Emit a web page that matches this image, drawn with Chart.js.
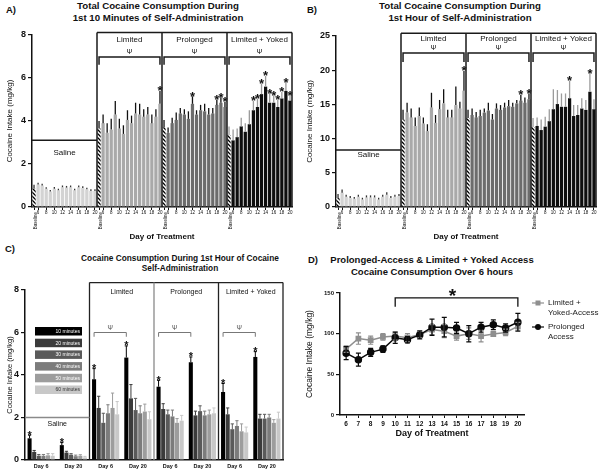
<!DOCTYPE html>
<html>
<head>
<meta charset="utf-8">
<script src="https://cdn.jsdelivr.net/npm/chart.js@4.4.1/dist/chart.umd.min.js"></script>
<style>
  body { margin: 0; background: #fff; width: 602px; height: 474px; position: relative; overflow: hidden;
         font-family: "Liberation Sans", Arial, sans-serif; color: #111; }
  canvas { position: absolute; }
  .letter { position: absolute; font-weight: bold; font-size: 9.5px; }
  .title { position: absolute; font-weight: bold; text-align: center; white-space: nowrap; }
</style>
</head>
<body>
<div class="letter" style="left:6px;top:4px">A)</div>
<div class="title" style="left:8px;top:0;width:300px;font-size:9.7px;line-height:11.5px">Total Cocaine Consumption During<br>1st 10 Minutes of Self-Administration</div>
<div class="letter" style="left:307px;top:4px">B)</div>
<div class="title" style="left:310px;top:0;width:300px;font-size:9.7px;line-height:12px">Total Cocaine Consumption During<br>1st Hour of Self-Administration</div>
<div class="letter" style="left:5px;top:243px">C)</div>
<div class="title" style="left:30px;top:254px;width:300px;font-size:8.3px;line-height:9.5px">Cocaine Consumption During 1st Hour of Cocaine<br>Self-Administration</div>
<div class="letter" style="left:308px;top:254px">D)</div>
<div class="title" style="left:282px;top:254px;width:300px;font-size:9.5px;line-height:12px">Prolonged-Access &amp; Limited + Yoked Access<br>Cocaine Consumption Over 6 hours</div>

<canvas id="chartA" width="300" height="245" style="left:0;top:0"></canvas>
<canvas id="chartB" width="302" height="245" style="left:300px;top:0"></canvas>
<canvas id="chartC" width="300" height="229" style="left:0;top:245px"></canvas>
<canvas id="chartD" width="302" height="229" style="left:300px;top:245px"></canvas>

<script>
const FONT = "'Liberation Sans', Arial, sans-serif";
Chart.defaults.font.family = FONT;
Chart.defaults.color = "#111";

const groups = ["Saline", "Limited", "Prolonged", "Limited + Yoked"];
const dayLabels = ["Baseline", "6", "7", "8", "9", "10", "11", "12", "13", "14", "15", "16", "17", "18", "19", "20"];
const barColors = ["#d3d3d3", "#a9a9a9", "#6c6c6c", "#0e0e0e"];
const errColors = ["#333333", "#111111", "#111111", "#9b9b9b"];

// A) first 10 minutes (mg/kg), baseline then days 6-20
const aSaline = [0.85, 1.05, 1.0, 0.85, 0.72, 0.85, 0.78, 0.92, 0.9, 0.92, 0.78, 0.92, 0.88, 0.82, 0.75, 0.75];
const aSalineErr = [0.18, 0.08, 0.08, 0.07, 0.07, 0.08, 0.07, 0.08, 0.08, 0.08, 0.07, 0.08, 0.08, 0.07, 0.07, 0.07];
const aLimited = [3.65, 3.9, 3.45, 3.6, 4.3, 3.65, 3.4, 4.05, 3.9, 4.35, 4.3, 4.2, 4.3, 3.9, 4.2, 4.8];
const aLimitedErr = [0.35, 0.4, 0.45, 0.5, 0.63, 0.45, 0.4, 0.45, 0.35, 0.5, 0.5, 0.35, 0.35, 0.4, 0.35, 0.6];
const aProlonged = [3.7, 3.45, 3.9, 4.05, 4.35, 4.3, 4.1, 4.8, 4.3, 4.5, 4.45, 4.3, 4.35, 4.75, 4.85, 4.65];
const aProlongedErr = [0.35, 0.25, 0.25, 0.35, 0.25, 0.25, 0.35, 0.35, 0.2, 0.25, 0.35, 0.3, 0.25, 0.25, 0.25, 0.25];
const aYoked = [3.35, 3.1, 3.25, 3.75, 3.5, 3.85, 4.5, 4.65, 5.25, 5.6, 4.85, 4.85, 4.65, 5.05, 5.4, 4.95];
const aYokedErr = [0.4, 0.5, 0.4, 0.4, 0.4, 0.65, 0.45, 0.4, 0.5, 0.5, 0.45, 0.35, 0.35, 0.3, 0.4, 0.25];
const aStars = [[], [20], [12, 18, 19, 20], [11, 12, 13, 14, 15, 16, 17, 18, 19, 20]];

// B) first hour (mg/kg)
const bSaline = [1.3, 2.1, 1.5, 1.3, 1.2, 1.5, 1.1, 1.4, 1.4, 1.4, 1.1, 1.5, 1.8, 1.3, 1.5, 1.6];
const bSalineErr = [0.6, 0.45, 0.3, 0.3, 0.25, 0.3, 0.25, 0.3, 0.3, 0.3, 0.25, 0.3, 0.35, 0.3, 0.3, 0.3];
const bLimited = [12.8, 13.8, 13.1, 11.85, 13.3, 12.2, 11.1, 14.55, 12.3, 14.3, 15.15, 13.1, 13.1, 14.9, 14.4, 17.0];
const bLimitedErr = [1.4, 1.45, 1.3, 1.25, 1.25, 0.9, 1.0, 2.15, 1.15, 1.35, 2.05, 1.1, 1.1, 2.7, 1.0, 2.9];
const bProlonged = [13.0, 13.45, 13.1, 13.3, 13.8, 14.1, 12.8, 14.4, 14.2, 14.55, 14.75, 14.65, 15.15, 15.55, 15.25, 15.75];
const bProlongedErr = [1.2, 0.95, 0.8, 0.9, 0.6, 1.15, 0.8, 0.75, 0.7, 0.7, 0.9, 0.6, 0.5, 0.85, 0.75, 0.85];
const bYoked = [11.7, 11.85, 11.25, 11.75, 12.55, 14.3, 15.05, 14.65, 14.65, 15.9, 13.3, 13.45, 14.4, 14.2, 16.85, 14.3];
const bYokedErr = [1.3, 1.25, 1.55, 1.45, 1.75, 2.9, 2.05, 1.95, 1.95, 2.6, 1.6, 1.45, 1.5, 1.45, 2.7, 1.45];
const bStars = [[], [20], [18, 20], [14, 19]];

// C) 10-minute bins of the first hour, days 6 and 20 per group
const cDays = ["Day 6", "Day 20"];
const minutes = ["10 minutes", "20 minutes", "30 minutes", "40 minutes", "50 minutes", "60 minutes"];
const minColors = ["#000000", "#3b3b3b", "#5a5a5a", "#7c7c7c", "#9d9d9d", "#c8c8c8"];
const minText = ["#fff", "#fff", "#fff", "#fff", "#fff", "#333"];
const c10 = [1.02, 0.7, 3.8, 4.82, 3.45, 4.6, 3.2, 4.85];
const c20 = [0.38, 0.35, 2.45, 2.9, 2.4, 2.1, 2.15, 1.95];
const c30 = [0.2, 0.25, 1.75, 2.35, 2.15, 2.3, 1.45, 1.95];
const c40 = [0.2, 0.18, 2.2, 2.2, 2.05, 2.1, 1.6, 2.0];
const c50 = [0.22, 0.2, 2.45, 2.28, 1.75, 2.15, 1.35, 1.75];
const c60 = [0.2, 0.12, 2.15, 1.92, 1.85, 2.2, 1.3, 1.95];
const c10Err = [0.15, 0.12, 0.5, 0.55, 0.3, 0.25, 0.4, 0.25];
const c20Err = [0.07, 0.06, 0.55, 0.65, 0.25, 0.2, 0.3, 0.2];
const c30Err = [0.06, 0.05, 0.45, 0.55, 0.2, 0.25, 0.25, 0.2];
const c40Err = [0.06, 0.05, 0.4, 0.35, 0.3, 0.2, 0.25, 0.15];
const c50Err = [0.08, 0.05, 0.7, 0.35, 0.2, 0.2, 0.35, 0.15];
const c60Err = [0.1, 0.05, 0.6, 0.35, 0.25, 0.25, 0.25, 0.3];

// D) 6-hour totals, days 6-20
const dDays = ["6", "7", "8", "9", "10", "11", "12", "13", "14", "15", "16", "17", "18", "19", "20"];
const dYoked = [81, 94, 92, 96, 97, 95, 99, 105, 103, 97, 100, 97, 99.5, 101.5, 109];
const dYokedErr = [4, 7, 5, 4, 5, 5, 4, 6, 8, 5, 7, 7, 3, 4, 5];
const dProlonged = [76, 68, 77, 81, 95, 92.5, 98.5, 108, 108, 107, 100, 108, 111, 107, 114];
const dProlongedErr = [8, 8, 5, 4, 7, 4, 5, 10, 12, 7, 10, 6, 6, 5, 11];
const dLegend = [["Limited +", "Yoked-Access"], ["Prolonged", "Access"]];

function hatch(ctx) {
  const tile = document.createElement("canvas");
  tile.width = 4; tile.height = 4;
  const g = tile.getContext("2d");
  g.fillStyle = "#fff"; g.fillRect(0, 0, 4, 4);
  g.strokeStyle = "#000"; g.lineWidth = 1.3;
  g.beginPath();
  g.moveTo(0, 0); g.lineTo(4, 4);
  g.moveTo(-1, 3); g.lineTo(1, 5);
  g.moveTo(3, -1); g.lineTo(5, 1);
  g.stroke();
  return ctx.createPattern(tile, "repeat");
}

function yAxis(max, step, width, titleSize) {
  return {
    min: 0, max,
    ticks: { stepSize: step, font: { size: 9, weight: "bold" }, padding: 2, color: "#111" },
    grid: { drawOnChartArea: false, tickLength: 4, color: "#111", lineWidth: 1.2 },
    border: { color: "#111", width: 1.5 },
    title: { display: true, text: "Cocaine Intake (mg/kg)", font: { size: titleSize }, padding: { top: 5, bottom: 0 }, color: "#111" },
    afterFit: s => { s.width = width; }
  };
}

function groupPlugin(p) {
  return {
    id: "groups",
    afterDraw(chart) {
      const { ctx, chartArea: a, scales: { x, y } } = chart;
      const meta = chart.getDatasetMeta(0);
      const vals = chart.data.datasets[0].data;
      const n = dayLabels.length;
      const edge = g => g === groups.length ? a.right : (x.getPixelForValue(g * n - 1) + x.getPixelForValue(g * n)) / 2;
      ctx.save();
      ctx.lineWidth = 1.3;
      vals.forEach((v, i) => {
        const el = meta.data[i];
        ctx.strokeStyle = errColors[Math.floor(i / n)];
        ctx.beginPath();
        ctx.moveTo(el.x, el.y);
        ctx.lineTo(el.x, y.getPixelForValue(v + p.errors[i]));
        ctx.stroke();
      });
      ctx.fillStyle = "#111";
      ctx.textAlign = "center";
      ctx.font = "bold 13px " + FONT;
      p.stars.forEach((days, g) => days.forEach(d => {
        const i = g * n + dayLabels.indexOf(String(d));
        ctx.fillText("*", meta.data[i].x, y.getPixelForValue(vals[i] + p.errors[i]) + 4.5);
      }));

      const top = y.getPixelForValue(p.boxTop);
      const sal = y.getPixelForValue(p.salineLine);
      ctx.strokeStyle = "#1a1a1a";
      ctx.lineWidth = 1.5;
      ctx.beginPath();
      ctx.moveTo(a.left, sal); ctx.lineTo(edge(1), sal);
      ctx.moveTo(edge(1), top); ctx.lineTo(a.right, top);
      for (let g = 1; g <= groups.length; g++) { ctx.moveTo(edge(g), top); ctx.lineTo(edge(g), a.bottom); }
      ctx.stroke();

      ctx.textBaseline = "middle";
      ctx.font = "8px " + FONT;
      ctx.fillText(groups[0], (a.left + edge(1)) / 2, y.getPixelForValue(p.salineText));
      const bt = y.getPixelForValue(p.bracket[0]), bb = y.getPixelForValue(p.bracket[1]);
      for (let g = 1; g < groups.length; g++) {
        const cx = (edge(g) + edge(g + 1)) / 2;
        ctx.font = "8px " + FONT;
        ctx.fillText(groups[g], cx, y.getPixelForValue(p.labelAt));
        ctx.font = "7px " + FONT;
        ctx.fillText("\u03A8", cx, y.getPixelForValue(p.psiAt));
        const x0 = meta.data[g * n].x, x1 = meta.data[g * n + n - 1].x;
        ctx.beginPath();
        ctx.moveTo(x0, bb); ctx.lineTo(x0, bt); ctx.lineTo(x1, bt); ctx.lineTo(x1, bb);
        ctx.stroke();
      }

      // rotated "Baseline" tick labels
      ctx.font = "4.5px " + FONT;
      ctx.textAlign = "right";
      for (let g = 0; g < groups.length; g++) {
        ctx.save();
        ctx.translate(x.getPixelForValue(g * n) + 1.5, a.bottom + 5);
        ctx.rotate(-Math.PI / 2);
        ctx.fillText(dayLabels[0], 0, 0);
        ctx.restore();
      }
      ctx.restore();
    }
  };
}

function groupChart(id, series, errors, stars, max, step, yWidth, box) {
  const ctx = document.getElementById(id).getContext("2d");
  const stripes = hatch(ctx);
  const values = [].concat(...series);
  const labels = [].concat(...groups.map(() => dayLabels));
  const n = dayLabels.length;
  const shown = i => i % n !== 0 && Number(dayLabels[i % n]) % 2 === 0;
  return new Chart(ctx, {
    type: "bar",
    data: {
      labels,
      datasets: [{
        data: values,
        backgroundColor: values.map((_, i) => i % n === 0 ? stripes : barColors[Math.floor(i / n)]),
        barPercentage: 0.8,
        categoryPercentage: 1
      }]
    },
    options: {
      responsive: false,
      animation: false,
      layout: { padding: { left: 0, right: box.padRight, top: box.padTop, bottom: 3 } },
      plugins: { legend: { display: false }, tooltip: { enabled: false } },
      scales: {
        x: {
          offset: true,
          ticks: {
            autoSkip: false, maxRotation: 0, minRotation: 0, padding: 0, font: { size: 4.5 }, color: "#111",
            callback(v, i) { return shown(i) ? this.getLabelForValue(v) : ""; }
          },
          grid: { offset: false, drawOnChartArea: false, tickLength: 3, lineWidth: 1,
                  color: c => (c.index % n === 0 || shown(c.index)) ? "#111" : "rgba(0,0,0,0)" },
          border: { color: "#111", width: 1.5 },
          title: { display: true, text: "Day of Treatment", font: { size: 8, weight: "bold" }, padding: 0, color: "#111" },
          afterFit: s => { s.height = 35; }
        },
        y: yAxis(max, step, yWidth, 8)
      }
    },
    plugins: [groupPlugin(Object.assign({ errors: [].concat(...errors), stars }, box))]
  });
}

groupChart("chartA",
  [aSaline, aLimited, aProlonged, aYoked],
  [aSalineErr, aLimitedErr, aProlongedErr, aYokedErr],
  aStars, 8, 2, 32,
  { padRight: 8, padTop: 35, boxTop: 8.12, salineLine: 3.1, salineText: 2.5, labelAt: 7.77, psiAt: 7.22, bracket: [6.98, 6.62] });

groupChart("chartB",
  [bSaline, bLimited, bProlonged, bYoked],
  [bSalineErr, bLimitedErr, bProlongedErr, bYokedErr],
  bStars, 25, 5, 36,
  { padRight: 6, padTop: 36, boxTop: 25.4, salineLine: 8.33, salineText: 7.6, labelAt: 24.56, psiAt: 23.3, bracket: [22.5, 21.2] });

// Panel C
const cValues = [c10, c20, c30, c40, c50, c60];
const cErrors = [c10Err, c20Err, c30Err, c40Err, c50Err, c60Err];
const cLabels = [].concat(...groups.map(() => cDays));

const binPlugin = {
  id: "bins",
  afterDraw(chart) {
    const { ctx, chartArea: a, scales: { x, y } } = chart;
    const k = cDays.length;
    const edge = g => g === groups.length ? a.right : (x.getPixelForValue(g * k - 1) + x.getPixelForValue(g * k)) / 2;
    ctx.save();
    ctx.lineWidth = 1;
    cValues.forEach((vals, d) => {
      const meta = chart.getDatasetMeta(d);
      ctx.strokeStyle = d === 0 ? "#000" : minColors[d];
      vals.forEach((v, i) => {
        const el = meta.data[i], t = y.getPixelForValue(v + cErrors[d][i]);
        ctx.beginPath();
        ctx.moveTo(el.x, el.y); ctx.lineTo(el.x, t);
        ctx.moveTo(el.x - 1.6, t); ctx.lineTo(el.x + 1.6, t);
        ctx.stroke();
      });
    });
    ctx.fillStyle = "#111";
    ctx.textAlign = "center";
    ctx.font = "bold 11px " + FONT;
    const m0 = chart.getDatasetMeta(0);
    c10.forEach((v, i) => ctx.fillText("*", m0.data[i].x, y.getPixelForValue(v + c10Err[i]) + 3.5));

    const top = y.getPixelForValue(8.35);
    ctx.lineWidth = 1.3;
    ctx.strokeStyle = "#222";
    ctx.beginPath();
    ctx.moveTo(edge(1), top); ctx.lineTo(a.right, top);
    [1, 3, 4].forEach(g => { ctx.moveTo(edge(g), top); ctx.lineTo(edge(g), a.bottom); });
    ctx.stroke();
    ctx.strokeStyle = "#8a8a8a";
    ctx.beginPath();
    ctx.moveTo(edge(2), top); ctx.lineTo(edge(2), a.bottom);
    ctx.moveTo(a.left, y.getPixelForValue(2)); ctx.lineTo(edge(1), y.getPixelForValue(2));
    ctx.stroke();

    ctx.textBaseline = "middle";
    ctx.font = "7px " + FONT;
    ctx.fillText(groups[0], (a.left + edge(1)) / 2, y.getPixelForValue(1.7));
    ctx.strokeStyle = "#777";
    ctx.lineWidth = 1;
    for (let g = 1; g < groups.length; g++) {
      ctx.fillStyle = "#111";
      ctx.font = "7px " + FONT;
      ctx.fillText(groups[g], (edge(g) + edge(g + 1)) / 2, y.getPixelForValue(7.9));
      const x0 = m0.data[g * k].x, x1 = m0.data[g * k + 1].x;
      const bt = y.getPixelForValue(6.0), bb = y.getPixelForValue(5.8);
      ctx.beginPath();
      ctx.moveTo(x0, bb); ctx.lineTo(x0, bt); ctx.lineTo(x1, bt); ctx.lineTo(x1, bb);
      ctx.stroke();
      ctx.fillStyle = "#555";
      ctx.font = "6.5px " + FONT;
      ctx.fillText("\u03A8", (x0 + x1) / 2, y.getPixelForValue(6.2));
    }

    // legend: filled swatches with the label written inside
    ctx.textAlign = "right";
    ctx.font = "5px " + FONT;
    chart.data.datasets.forEach((ds, d) => {
      const ly = a.top + 37 + d * 11.7;
      ctx.fillStyle = ds.backgroundColor;
      ctx.fillRect(a.left + 10, ly, 47, 8.5);
      ctx.fillStyle = minText[d];
      ctx.fillText(ds.label, a.left + 55, ly + 4.5);
    });
    ctx.restore();
  }
};

new Chart(document.getElementById("chartC"), {
  type: "bar",
  data: {
    labels: cLabels,
    datasets: minutes.map((m, d) => ({ label: m, data: cValues[d], backgroundColor: minColors[d] }))
  },
  options: {
    responsive: false,
    animation: false,
    categoryPercentage: 0.86,
    barPercentage: 0.88,
    layout: { padding: { left: 0, right: 17, top: 45, bottom: 2 } },
    plugins: { legend: { display: false }, tooltip: { enabled: false } },
    scales: {
      x: {
        ticks: { font: { size: 5.5, weight: "bold" }, padding: 3, color: "#111", maxRotation: 0 },
        grid: { display: false, drawTicks: false },
        border: { color: "#111", width: 1.5 },
        afterFit: s => { s.height = 12; }
      },
      y: yAxis(8, 2, 25, 7.5)
    }
  },
  plugins: [binPlugin]
});

// Panel D
const linePlugin = {
  id: "lines",
  afterDatasetsDraw(chart) {
    const { ctx, chartArea: a, scales: { x, y } } = chart;
    const errs = [dYokedErr, dProlongedErr];
    ctx.save();
    ctx.lineWidth = 1.2;
    [0, 1].forEach(d => {
      const ds = chart.data.datasets[d], meta = chart.getDatasetMeta(d);
      ctx.strokeStyle = ds.borderColor;
      ds.data.forEach((v, i) => {
        const px = meta.data[i].x, lo = y.getPixelForValue(v - errs[d][i]), hi = y.getPixelForValue(v + errs[d][i]);
        ctx.beginPath();
        ctx.moveTo(px, lo); ctx.lineTo(px, hi);
        ctx.moveTo(px - 2.5, lo); ctx.lineTo(px + 2.5, lo);
        ctx.moveTo(px - 2.5, hi); ctx.lineTo(px + 2.5, hi);
        ctx.stroke();
      });
    });
    // significance bracket, days 10-20
    const x0 = x.getPixelForValue(dDays.indexOf("10")), x1 = x.getPixelForValue(dDays.indexOf("20"));
    const bt = y.getPixelForValue(144), bb = y.getPixelForValue(133);
    ctx.strokeStyle = "#111";
    ctx.lineWidth = 1.3;
    ctx.beginPath();
    ctx.moveTo(x0, bb); ctx.lineTo(x0, bt); ctx.lineTo(x1, bt); ctx.lineTo(x1, bb);
    ctx.stroke();
    ctx.fillStyle = "#111";
    ctx.textAlign = "center";
    ctx.font = "bold 19px " + FONT;
    ctx.fillText("*", (x0 + x1) / 2 - 4, bt + 4);

    // legend on the right
    ctx.textAlign = "left";
    ctx.textBaseline = "middle";
    ctx.font = "8px " + FONT;
    chart.data.datasets.forEach((ds, d) => {
      const ly = a.top + 10 + d * 24;
      const lx = a.right + 8;
      ctx.strokeStyle = ds.borderColor;
      ctx.lineWidth = 1.2;
      ctx.beginPath(); ctx.moveTo(lx, ly); ctx.lineTo(lx + 12, ly); ctx.stroke();
      ctx.fillStyle = ds.borderColor;
      if (ds.pointStyle === "rect") ctx.fillRect(lx + 3.5, ly - 2.5, 5, 5);
      else { ctx.beginPath(); ctx.arc(lx + 6, ly, 3, 0, Math.PI * 2); ctx.fill(); }
      ctx.fillStyle = "#222";
      dLegend[d].forEach((t, j) => ctx.fillText(t, lx + 16, ly + j * 10));
    });
    ctx.restore();
  }
};

new Chart(document.getElementById("chartD"), {
  type: "line",
  data: {
    labels: dDays,
    datasets: [
      { label: "Limited + Yoked-Access", data: dYoked, borderColor: "#8f8f8f", backgroundColor: "#8f8f8f",
        pointStyle: "rect", pointRadius: 3, borderWidth: 1.5, order: 1 },
      { label: "Prolonged Access", data: dProlonged, borderColor: "#0a0a0a", backgroundColor: "#0a0a0a",
        pointStyle: "circle", pointRadius: 3, borderWidth: 1.5, order: 0 }
    ]
  },
  options: {
    responsive: false,
    animation: false,
    layout: { padding: { left: 0, right: 78, top: 48, bottom: 35 } },
    plugins: { legend: { display: false }, tooltip: { enabled: false } },
    scales: {
      x: {
        offset: true,
        ticks: { font: { size: 6.5, weight: "bold" }, padding: 2, color: "#111", maxRotation: 0 },
        grid: { offset: false, drawOnChartArea: false, tickLength: 3, color: "#111" },
        border: { color: "#111", width: 1.5 },
        title: { display: true, text: "Day of Treatment", font: { size: 9, weight: "bold" }, padding: 0, color: "#111" },
        afterFit: s => { s.height = 24; }
      },
      y: Object.assign(yAxis(150, 50, 40, 8.5), {
        ticks: { stepSize: 50, font: { size: 6, weight: "bold" }, padding: 2, color: "#111" }
      })
    }
  },
  plugins: [linePlugin]
});
</script>
</body>
</html>
